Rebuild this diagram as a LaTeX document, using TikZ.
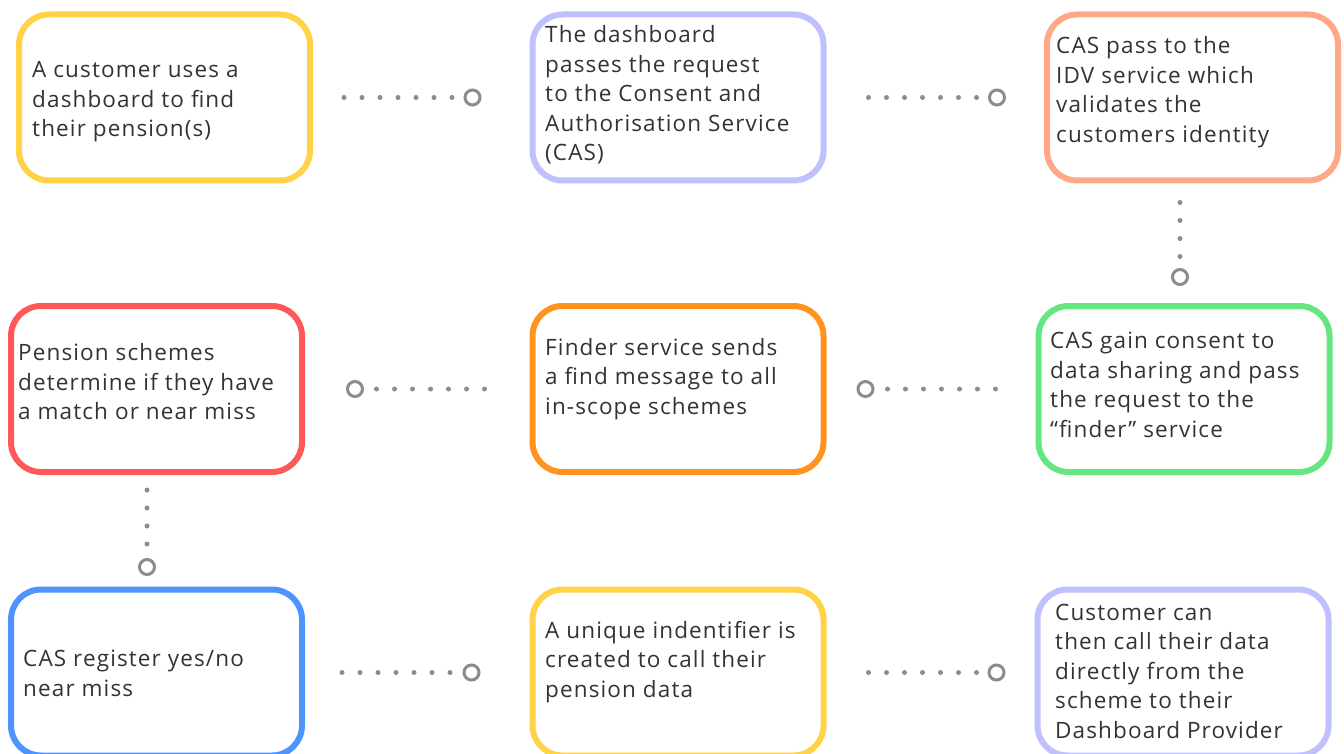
\documentclass[tikz,border=0pt]{standalone}
\usepackage{fontspec}
\setmainfont{Open Sans}[LetterSpace=5]
\usetikzlibrary{arrows.meta}
\definecolor{pYellow}{RGB}{255,210,72}
\definecolor{pLavender}{RGB}{192,192,255}
\definecolor{pSalmon}{RGB}{255,168,136}
\definecolor{pRed}{RGB}{255,88,88}
\definecolor{pOrange}{RGB}{255,147,30}
\definecolor{pGreen}{RGB}{102,230,128}
\definecolor{pBlue}{RGB}{77,148,255}
\definecolor{pText}{RGB}{51,51,51}
\definecolor{pDots}{RGB}{140,140,140}

\begin{document}
\begin{tikzpicture}[x=1pt,y=-1pt,
  card/.style={draw=#1, line width=6pt, rounded corners=30pt, minimum width=291pt, minimum height=166pt, inner sep=0pt, outer sep=0pt},
  cardtext/.style={anchor=west, align=left, inner sep=0pt, text=pText, font=\fontsize{22.5pt}{29.5pt}\selectfont},
  flow/.style={draw=pDots, line width=5pt, line cap=round, dash pattern=on 0pt off 18pt, -{Circle[open, length=18pt, line width=3pt]}}]
\path[use as bounding box, fill=white] (0,0) rectangle (1344,754);
\node[card=pYellow] (b1) at (164.5,97.5) {};
\node[card=pLavender] (b2) at (678,97.5) {};
\node[card=pSalmon] (b3) at (1192.5,97.5) {};
\node[card=pRed] (b4) at (156.5,389) {};
\node[card=pOrange] (b5) at (678,389) {};
\node[card=pGreen] (b6) at (1184,389) {};
\node[card=pBlue] (b7) at (156.5,672.5) {};
\node[card=pYellow] (b8) at (678,672.5) {};
\node[card=pLavender] (b9) at (1183,672.5) {};
\node[cardtext] (t1) at (32,102) {A customer uses a\\dashboard to find\\their pension(s)};
\node[cardtext] (t2) at (545,95) {The dashboard\\passes the request\\to the Consent and\\Authorisation Service\\(CAS)};
\node[cardtext] (t3) at (1056,92) {CAS pass to the\\IDV service which\\validates the\\customers identity};
\node[cardtext] (t4) at (18,382) {Pension schemes\\determine if they have\\a match or near miss};
\node[cardtext] (t5) at (545,379) {Finder service sends\\a find message to all\\in-scope schemes};
\node[cardtext] (t6) at (1050,385) {CAS gain consent to\\data sharing and pass\\the request to the\\“finder” service};
\node[cardtext] (t7) at (23,673.5) {CAS register yes/no\\near miss};
\node[cardtext] (t8) at (545,662) {A unique indentifier is\\created to call their\\pension data};
\node[cardtext] (t9) at (1055,671) {Customer can\\then call their data\\directly from the\\scheme to their\\Dashboard Provider};
\draw[flow, shorten <=34pt, shorten >=51pt] (b1) -- (b2);
\draw[flow, shorten <=45pt, shorten >=41pt] (b2) -- (b3);
\draw[flow, shorten <=22pt, shorten >=20pt] ([xshift=-12.5pt]b3.south) -- ([xshift=-4pt]b6.north);
\draw[flow, shorten <=43pt, shorten >=33pt] (b6) -- (b5);
\draw[flow, shorten <=48pt, shorten >=44pt] (b5) -- (b4);
\draw[flow, shorten <=18pt, shorten >=13.5pt] ([xshift=-9.5pt]b4.south) -- ([xshift=-9.5pt]b7.north);
\draw[flow, shorten <=40pt, shorten >=52pt] (b7) -- (b8);
\draw[flow, shorten <=45pt, shorten >=32pt] (b8) -- (b9);
\end{tikzpicture}
\end{document}
